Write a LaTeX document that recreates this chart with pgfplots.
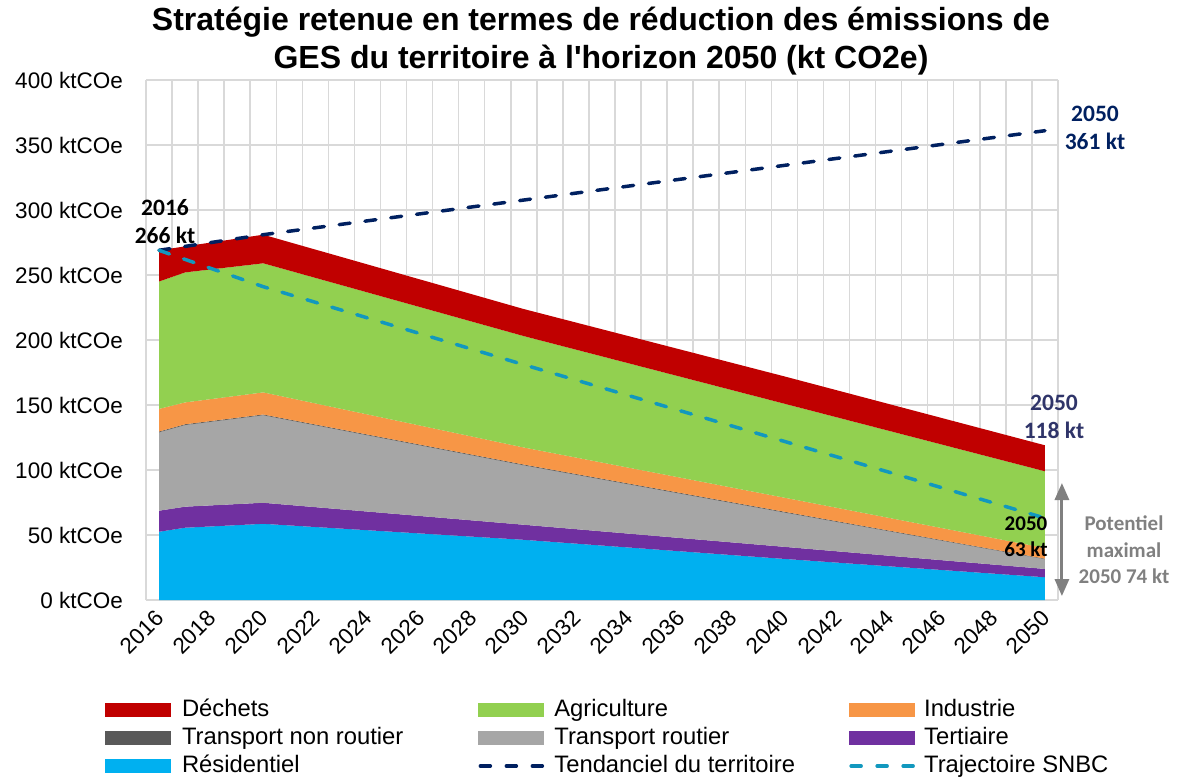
\documentclass[border=0pt]{standalone}
\usepackage{fontspec}
\setmainfont{Liberation Sans}[Ligatures=TeXOff]
\newfontfamily\calib{Carlito}
\usepackage{pgfplots}
\pgfplotsset{compat=1.18}
\usepackage{pgfplotstable}
\usetikzlibrary{arrows.meta}

\definecolor{cDech}{HTML}{C00000}
\definecolor{cAgri}{HTML}{92D050}
\definecolor{cInd}{HTML}{F79646}
\definecolor{cTnr}{HTML}{595959}
\definecolor{cTr}{HTML}{A6A6A6}
\definecolor{cTert}{HTML}{7030A0}
\definecolor{cRes}{HTML}{00B0F0}
\definecolor{cTend}{HTML}{002060}
\definecolor{cSnbc}{HTML}{1298BE}
\definecolor{gridc}{HTML}{D9D9D9}
\definecolor{c118}{RGB}{47,52,105}
\definecolor{cPot}{HTML}{808080}

\pgfplotstableread{
year res tert tr tnr ind agri dech
2016 52.5 16.2 60.3 0.6 17.4 98.0 24.0
2017 55.6 16.2 62.8 0.6 16.8 100.0 20.0
2020 58.6 16.2 67.3 0.6 17.0 99.3 22.0
2030 46.3 11.6 45.7 0.6 13.1 85.7 20.8
2040 31.6 9.3 26.4 0.6 10.8 72.3 21.0
2050 17.5 6.4 7.5 0.4 8.2 59.0 20.0
}\sectors

\pgfplotstableread{
year val
2016 269
2020 281
2050 361
}\tend

\pgfplotstableread{
year val
2016 269
2020 241
2030 181
2050 63
}\snbc

\pgfplotsset{
  areaimg/.style={legend image code/.code={\path[fill, draw=none] (0pt,-7pt) rectangle (66pt,7pt);}},
  lineimg/.style={legend image code/.code={\draw (2pt,0pt) -- (64pt,0pt);}},
}

\begin{document}
\begin{tikzpicture}
\useasboundingbox (0pt,0pt) rectangle (1178pt,782pt);
\begin{axis}[
  at={(146pt,182pt)}, anchor=south west,
  scale only axis, width=912pt, height=520pt,
  xmin=2015.5, xmax=2050.5, ymin=0, ymax=400,
  xtick={2016,2018,2020,2022,2024,2026,2028,2030,2032,2034,2036,2038,2040,2042,2044,2046,2048,2050},
  xticklabels={2016,2018,2020,2022,2024,2026,2028,2030,2032,2034,2036,2038,2040,2042,2044,2046,2048,2050},
  minor xtick={2015.5,2016.5,...,2050.5},
  ytick={0,50,100,150,200,250,300,350,400},
  yticklabels={0 ktCOe,50 ktCOe,100 ktCOe,150 ktCOe,200 ktCOe,250 ktCOe,300 ktCOe,350 ktCOe,400 ktCOe},
  xminorgrids=true, ymajorgrids=true, xmajorgrids=false,
  major tick length=0pt, minor tick length=0pt,
  axis line style={draw=none},
  major grid style={draw=gridc, line width=1.5pt},
  minor grid style={draw=gridc, line width=1.5pt},
  tick label style={font=\fontsize{22.5}{27}\selectfont},
  yticklabel style={inner sep=0pt, xshift=-23pt},
  xticklabel style={inner sep=0pt, xshift=1pt, yshift=-14pt, rotate=45, anchor=east},
  clip=false,
  legend columns=3,
  legend cell align=left,
  legend style={at={(-0.04496,-0.1904)}, anchor=north west, draw=none, fill=none,
    inner sep=0pt, outer sep=0pt, row sep=6pt,
    nodes={inner sep=0pt, text height=17pt, text depth=5pt, font=\fontsize{23.8}{28}\selectfont},
    /tikz/column 1/.style={column sep=11pt},
    /tikz/column 2/.style={column sep=75pt},
    /tikz/column 3/.style={column sep=10pt},
    /tikz/column 4/.style={column sep=54pt},
    /tikz/column 5/.style={column sep=9pt},
  },
]
\addlegendimage{areaimg, fill=cDech}\addlegendentry{Déchets}
\addlegendimage{areaimg, fill=cAgri}\addlegendentry{Agriculture}
\addlegendimage{areaimg, fill=cInd}\addlegendentry{Industrie}
\addlegendimage{areaimg, fill=cTnr}\addlegendentry{Transport non routier}
\addlegendimage{areaimg, fill=cTr}\addlegendentry{Transport routier}
\addlegendimage{areaimg, fill=cTert}\addlegendentry{Tertiaire}
\addlegendimage{areaimg, fill=cRes}\addlegendentry{Résidentiel}
\addlegendimage{lineimg, draw=cTend, line width=3.5pt, dash pattern=on 10pt off 16pt, line cap=round}\addlegendentry{Tendanciel du territoire}
\addlegendimage{lineimg, draw=cSnbc, line width=3.5pt, dash pattern=on 10pt off 16pt, line cap=round}\addlegendentry{Trajectoire SNBC}

\addplot[fill=cRes, draw=none, stack plots=y, forget plot] table[x=year,y=res]{\sectors} \closedcycle;
\addplot[fill=cTert, draw=none, stack plots=y, forget plot] table[x=year,y=tert]{\sectors} \closedcycle;
\addplot[fill=cTr, draw=none, stack plots=y, forget plot] table[x=year,y=tr]{\sectors} \closedcycle;
\addplot[fill=cTnr, draw=none, stack plots=y, forget plot] table[x=year,y=tnr]{\sectors} \closedcycle;
\addplot[fill=cInd, draw=none, stack plots=y, forget plot] table[x=year,y=ind]{\sectors} \closedcycle;
\addplot[fill=cAgri, draw=none, stack plots=y, forget plot] table[x=year,y=agri]{\sectors} \closedcycle;
\addplot[fill=cDech, draw=none, stack plots=y, forget plot] table[x=year,y=dech]{\sectors} \closedcycle;

\addplot[draw=cTend, line width=3.5pt, dash pattern=on 11pt off 15pt, line cap=round, stack plots=false, forget plot] table[x=year,y=val]{\tend};
\addplot[draw=cSnbc, line width=3.5pt, dash pattern=on 11pt off 15pt, line cap=round, stack plots=false, forget plot] table[x=year,y=val]{\snbc};

\draw[draw=cPot, line width=3pt, {Triangle[width=14pt,length=17pt]}-{Triangle[width=14pt,length=17pt]}] (axis cs:2050.65,3) -- (axis cs:2050.65,90);
\end{axis}

\node[font=\fontsize{32}{38}\selectfont\bfseries, align=center] at (601pt,741pt)
  {Stratégie retenue en termes de réduction des émissions de\\GES du territoire à l'horizon 2050 (kt CO2e)};
\node[font=\calib\fontsize{23.5}{28}\selectfont\bfseries, align=center, text=black] at (165pt,560pt) {2016\\266 kt};
\node[font=\calib\fontsize{23.5}{28}\selectfont\bfseries, align=center, text=cTend] at (1095pt,654.5pt) {2050\\361 kt};
\node[font=\calib\fontsize{23.5}{28}\selectfont\bfseries, align=center, text=c118] at (1054pt,365.5pt) {2050\\118 kt};
\node[font=\calib\fontsize{21}{26}\selectfont\bfseries, align=center, text=black] at (1026pt,245pt) {2050\\63 kt};
\node[font=\calib\fontsize{21}{26.5}\selectfont\bfseries, align=center, text=cPot] at (1124pt,232pt) {Potentiel\\maximal\\2050 74 kt};
\end{tikzpicture}
\end{document}
